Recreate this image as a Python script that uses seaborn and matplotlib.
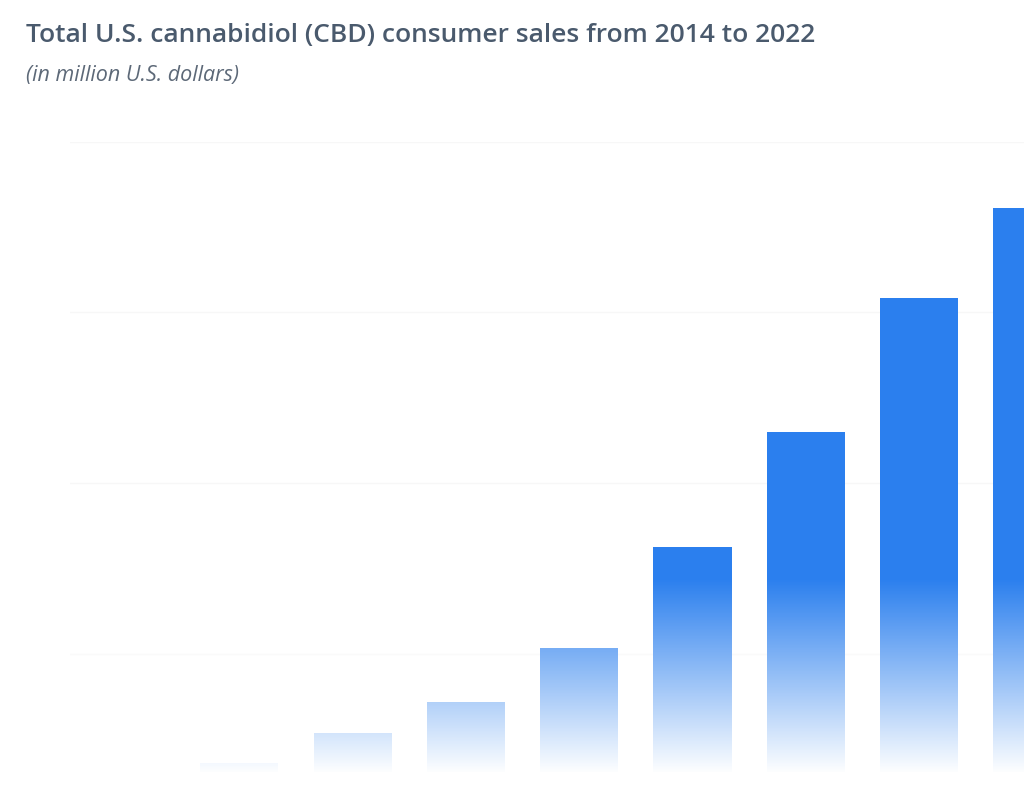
import numpy as np
import matplotlib
matplotlib.use("Agg")
import matplotlib.pyplot as plt
import seaborn as sns

years = ["2014", "2015", "2016", "2017", "2018", "2019", "2020", "2021", "2022"]
sales = [108, 179, 267, 358, 516, 812, 1150, 1543, 1806]
grid_ticks = [0, 500, 1000, 1500, 2000]

title = "Total U.S. cannabidiol (CBD) consumer sales from 2014 to 2022"
subtitle = "(in million U.S. dollars)"

sns.set_theme(style="white")
plt.rcParams["font.family"] = ["Open Sans", "DejaVu Sans"]

W, H = 1024, 795
fig = plt.figure(figsize=(W / 100, H / 100), dpi=100)
fig.patch.set_facecolor("white")

# axes: left at 70px, baseline hidden below figure (y=824px), top gridline at 142px
left_px, base_px, top_px = 70, 824, 142
ax = fig.add_axes([left_px / W, (H - base_px) / H, 1 - left_px / W, (base_px - top_px) / H])
sns.barplot(x=years, y=sales, color="#2b7fee", saturation=1, width=0.69,
            edgecolor="none", ax=ax, zorder=2)
step_px = 113.3
ax.set_xlim((left_px - 126) / step_px, (W - 126) / step_px)
ax.set_ylim(0, 2000)
ax.set_yticks(grid_ticks)
ax.grid(axis="y", color="#f7f7f7", lw=1.0, zorder=0)
ax.set_axisbelow(True)
ax.tick_params(left=False, bottom=False, labelleft=False, labelbottom=False)
ax.set_xlabel("")
ax.set_ylabel("")
for s in ax.spines.values():
    s.set_visible(False)
ax.patch.set_alpha(0)

# white fade overlay over the lower part
ov = fig.add_axes([0, 0, 1, 1], zorder=5)
ov.axis("off")
rows = np.arange(H)
alpha = np.clip((rows - 578) / (772 - 578), 0, 1)
img = np.ones((H, 1, 4))
img[:, 0, 3] = alpha
ov.imshow(img, aspect="auto", extent=[0, 1, 0, 1], origin="upper", interpolation="bilinear")
ov.set_xlim(0, 1)
ov.set_ylim(0, 1)

fig.text(26 / W, (H - 42) / H, title, fontsize=19, fontweight="semibold",
         color="#4a5a6d", va="baseline", ha="left", zorder=10)
fig.text(26 / W, (H - 81) / H, subtitle, fontsize=15.5, style="italic",
         color="#5d6978", va="baseline", ha="left", zorder=10)

fig.savefig("out.png", dpi=100, facecolor="white")
